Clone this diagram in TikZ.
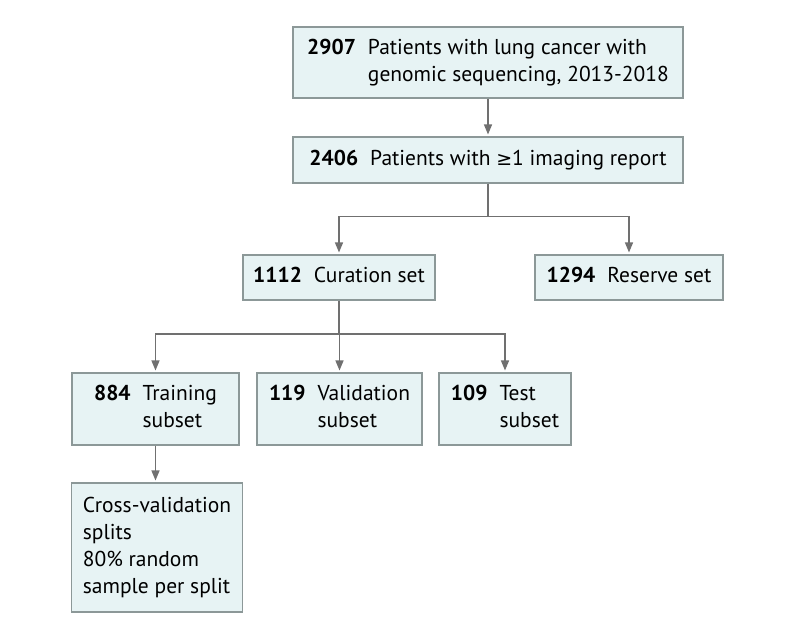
\documentclass[tikz,border=0pt]{standalone}
\usepackage{fontspec}
\setmainfont{PT Sans}
\newfontfamily\symfont{DejaVu Sans}
\usetikzlibrary{arrows.meta}
\definecolor{boxfill}{RGB}{231,243,244}
\definecolor{boxline}{RGB}{140,152,152}
\definecolor{arrowcol}{RGB}{112,112,112}
\newcommand{\numtxt}[2]{\begin{tabular}{@{}l@{\hspace{12pt}}l@{}}#1&#2\end{tabular}}
\begin{document}
\begin{tikzpicture}[x=1pt,y=1pt,
  box/.style={draw=boxline, fill=boxfill, line width=1.1pt, inner sep=0pt, align=center,
    font=\fontsize{21.5}{27}\selectfont},
  conn/.style={draw=arrowcol, line width=1.3pt},
  arr/.style={conn, -{Triangle[length=10pt,width=8pt]}, shorten >=2pt}]
\useasboundingbox (0,0) rectangle (794,-633);
\fill[white] (0,0) rectangle (794,-633);

\node[box, minimum width=390, minimum height=71] (n1) at (488,-62.5)
  {\numtxt{\textbf{2907}}{Patients with lung cancer with\\&genomic sequencing, 2013-2018}};
\node[box, minimum width=390, minimum height=46] (n2) at (488,-160)
  {\numtxt{\textbf{2406}}{Patients with {\symfont\fontsize{19}{27}\selectfont ≥}1 imaging report}};
\node[box, minimum width=192, minimum height=45] (n3) at (339,-277.5)
  {\numtxt{\textbf{1112}}{Curation set}};
\node[box, minimum width=188, minimum height=45] (n4) at (629,-277.5)
  {\numtxt{\textbf{1294}}{Reserve set}};
\node[box, minimum width=167, minimum height=72] (n5) at (155.5,-409)
  {\numtxt{\textbf{884}}{Training\\&subset}};
\node[box, minimum width=165, minimum height=72] (n6) at (339.5,-409)
  {\numtxt{\textbf{119}}{Validation\\&subset}};
\node[box, minimum width=132, minimum height=72] (n7) at (505,-409)
  {\numtxt{\textbf{109}}{Test\\&subset}};
\node[box, minimum width=171, minimum height=129] (n8) at (157,-547.5)
  {\begin{tabular}{@{}l@{}}Cross-validation\\splits\\80\% random\\sample per split\end{tabular}};

\coordinate (j1) at (488,-216.7);
\coordinate (j2) at (339,-334);

\draw[arr] (n1) -- (n2);
\draw[conn] (n2) -- (j1);
\draw[arr] (j1) -| (n3);
\draw[arr] (j1) -| (n4);
\draw[conn] (n3) -- (j2);
\draw[arr] (j2) -| (n5);
\draw[arr] (j2) -| (n6);
\draw[arr] (j2) -| (n7);
\draw[arr] (n5.south) -- (n5.south |- n8.north);
\end{tikzpicture}
\end{document}
